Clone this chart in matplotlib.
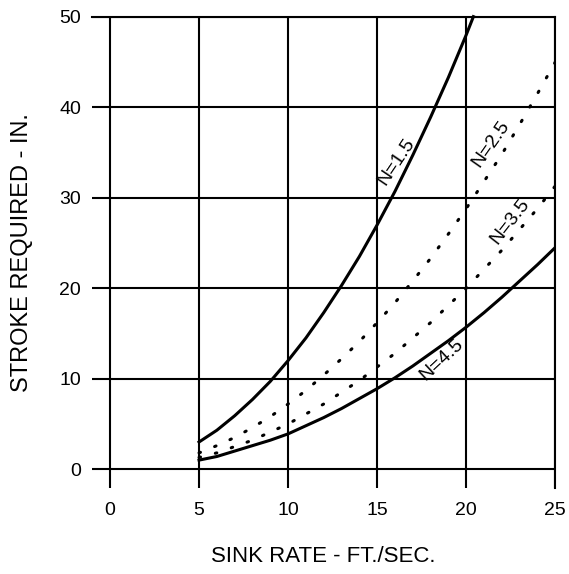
import numpy as np
import matplotlib
matplotlib.use('Agg')
import matplotlib.pyplot as plt

plt.rcParams['font.family'] = ['Liberation Sans', 'DejaVu Sans']

# sink rate (ft/sec) and stroke required (in.)
x_n15 = [5, 6, 7, 8, 9, 10, 11, 12, 13, 14, 15, 16, 17, 18, 19, 20, 20.4]
y_n15 = [3.0, 4.3, 5.9, 7.7, 9.7, 12.0, 14.5, 17.3, 20.3, 23.5, 27.0,
         30.7, 34.7, 38.9, 43.3, 48.0, 50.0]

x_sink = [5, 6, 7, 8, 9, 10, 11, 12, 13, 14, 15, 16, 17, 18, 19, 20,
          21, 22, 23, 24, 25]
y_n25 = [1.8, 2.6, 3.5, 4.6, 5.8, 7.2, 8.7, 10.4, 12.2, 14.1, 16.2, 18.4,
         20.8, 23.3, 26.0, 28.8, 31.8, 34.8, 38.1, 41.5, 45.0]
y_n35 = [1.3, 1.8, 2.5, 3.2, 4.1, 5.0, 6.1, 7.2, 8.5, 9.8, 11.3, 12.8,
         14.5, 16.2, 18.1, 20.0, 22.1, 24.2, 26.5, 28.8, 31.3]
y_n45 = [1.0, 1.4, 2.0, 2.6, 3.2, 3.9, 4.8, 5.7, 6.7, 7.8, 8.9, 10.1,
         11.4, 12.8, 14.2, 15.7, 17.3, 19.0, 20.8, 22.6, 24.5]

x_ticks = [0, 5, 10, 15, 20, 25]
y_ticks = [0, 10, 20, 30, 40, 50]

fig = plt.figure(figsize=(5.69, 5.74), dpi=100)
ax = fig.add_axes([0.161, 0.150, 0.815, 0.821])

ax.set_xlim(-1.03, 25)
ax.set_ylim(-2.07, 50)
ax.set_xticks(x_ticks)
ax.set_yticks(y_ticks)
ax.grid(True, color='black', linewidth=1.5)
ax.tick_params(length=0, labelsize=14)
ax.tick_params(axis='x', pad=10.5)
ax.tick_params(axis='y', pad=7.5)
for side in ['left', 'bottom']:
    ax.spines[side].set_visible(False)
for side in ['top', 'right']:
    ax.spines[side].set_linewidth(1.5)

dots = (0, (0.5, 5.0))
ax.plot(x_n15, y_n15, color='black', linewidth=2.2, clip_on=False)
ax.plot(x_sink, y_n25, color='black', linewidth=2.2, linestyle=dots,
        dash_capstyle='round')
ax.plot(x_sink, y_n35, color='black', linewidth=2.2, linestyle=dots,
        dash_capstyle='round')
ax.plot(x_sink, y_n45, color='black', linewidth=2.2)

ax.text(16.07, 33.96, 'N=1.5', rotation=56, fontsize=14, ha='center', va='center')
ax.text(21.35, 35.9, 'N=2.5', rotation=55, fontsize=14, ha='center', va='center')
ax.text(22.47, 27.4, 'N=3.5', rotation=52, fontsize=14, ha='center', va='center')
ax.text(18.63, 12.1, 'N=4.5', rotation=43, fontsize=14, ha='center', va='center')

ax.set_xlabel('SINK RATE - FT./SEC.', fontsize=16, va='center')
ax.set_ylabel('STROKE REQUIRED - IN.', fontsize=17, va='center')
ax.xaxis.set_label_coords(0.5, -0.1465)
ax.yaxis.set_label_coords(-0.150, 0.5)

fig.savefig('out.png', dpi=100)
